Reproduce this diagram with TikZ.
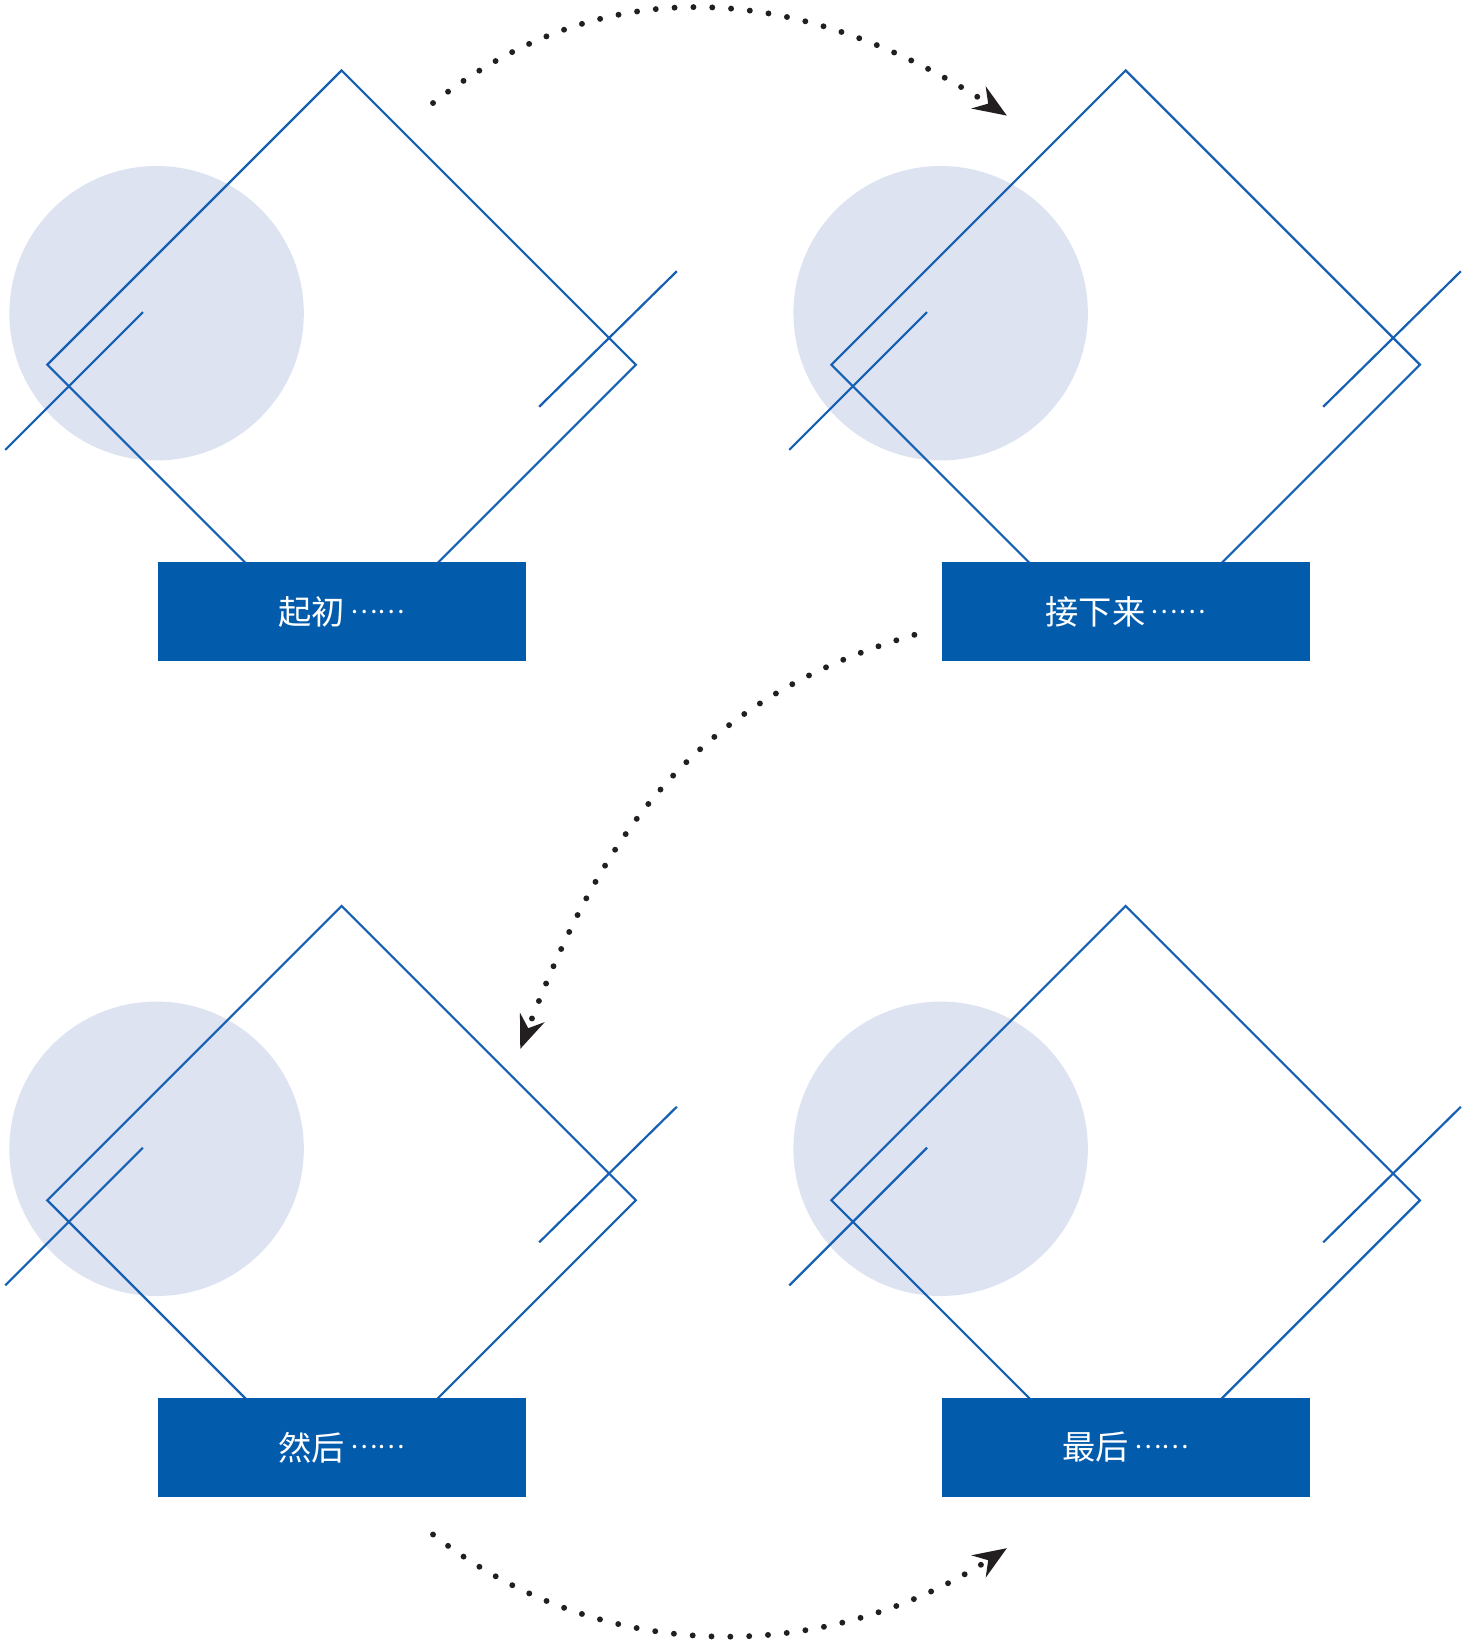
\documentclass[tikz,border=0pt]{standalone}
\usepackage{fontspec}
\newfontfamily\cjk{Noto Sans CJK SC}
\usetikzlibrary{arrows.meta}

\definecolor{stepblue}{RGB}{3,91,172}
\definecolor{lineblue}{RGB}{22,96,180}
\definecolor{discfill}{RGB}{222,227,242}
\definecolor{dotgray}{RGB}{35,31,32}

% ellipsis set at mid height, as in the labels
\newcommand\middots{{\fontsize{7}{9}\selectfont\raisebox{3pt}{……}}}

\tikzset{
    stagebox/.style = {fill=stepblue, minimum width=3.5cm, minimum height=0.94cm, inner sep=0pt,
                       text=white, font=\cjk\fontsize{9}{11}\selectfont},
    frame/.style    = {draw=lineblue, line width=0.6pt},
    flow/.style     = {draw=dotgray, line width=1.6pt, line cap=round, dash pattern=on 0pt off 5.1pt,
                       -{Stealth[length=9pt,width=7pt,inset=3pt]}}
}

\begin{document}
\begin{tikzpicture}[x=0.01cm, y=-0.01cm]
    \useasboundingbox (0,0) rectangle (1401,1568);
    % four stages
    \foreach \dx/\dy/\n/\txt in {0/0/1/起初, 746/0/2/接下来, 0/795/3/然后, 746/795/4/最后} {
        \begin{scope}[shift={(\dx,\dy)}]
            \fill[discfill] (149,298) circle (1.4cm);
            \draw[frame] (325,67) -- (605,347) -- (325,627) -- (45,347) -- cycle;
            \draw[frame] (5,428) -- (136,297);
            \draw[frame] (513,387) -- (644,258);
            \node[stagebox] (box\n) at (325,582) {\txt\,\middots};
        \end{scope}
    }
    % dotted arrows between stages
    \coordinate (out1) at (412,98);
    \coordinate (in2) at (958,110);
    \coordinate (out2) at (870,604);
    \coordinate (in3) at (495,998);
    \coordinate (out3) at (412,1460);
    \coordinate (in4) at (958,1473);
    \draw[flow] (out1) .. controls (586,-38) and (773,-9) .. (in2);
    \draw[flow] (out2) .. controls (649,668) and (567,810) .. (in3);
    \draw[flow] (out3) .. controls (574,1587) and (786,1584) .. (in4);
\end{tikzpicture}
\end{document}
